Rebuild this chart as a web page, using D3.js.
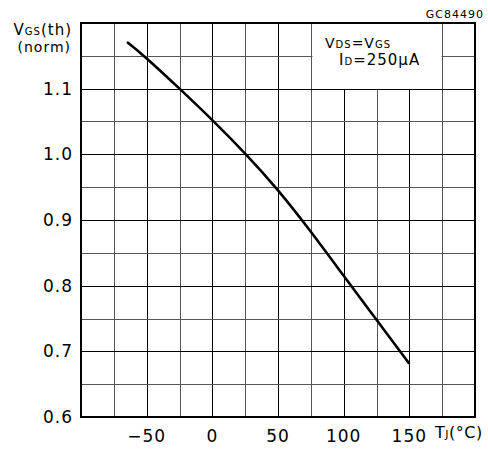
<!DOCTYPE html>
<html>
<head>
<meta charset="utf-8">
<script src="https://cdn.jsdelivr.net/npm/d3@7"></script>
<style>
  body { margin: 0; background: #fff; }
  svg text { font-family: 'DejaVu Sans', sans-serif; fill: #000; }
</style>
</head>
<body>
<div id="chart"></div>
<script>
// junction temperature (°C) vs normalized gate threshold voltage
var tempC = [-65, -50, -25, 0, 25, 50, 75, 100, 125, 150]
var vthNorm = [1.171, 1.146, 1.100, 1.052, 1.001, 0.945, 0.882, 0.815, 0.748, 0.681]

var xTickLabels = [-50, 0, 50, 100, 150]
var yTickLabels = [0.6, 0.7, 0.8, 0.9, 1.0, 1.1]
var xGrid = d3.range(-75, 200, 25)
var yGrid = d3.range(0.65, 1.2, 0.05)

var width = 488, height = 449
var margin = {left: 81, right: 13, top: 23, bottom: 32}

var svg = d3.select('#chart').append('svg')
  .attr('width', width)
  .attr('height', height)

var x = d3.scaleLinear().domain([-100, 200]).range([margin.left, width - margin.right])
var y = d3.scaleLinear().domain([0.6, 1.2]).range([height - margin.bottom, margin.top])

var isMajorX = d => d % 50 == 0
var isMajorY = d => Math.abs(Math.round(d*10) - d*10) < 1e-6

// grid
svg.append('g').selectAll('line')
  .data(xGrid)
  .join('line')
  .attr('x1', d => Math.round(x(d)) + .5)
  .attr('x2', d => Math.round(x(d)) + .5)
  .attr('y1', y(1.2))
  .attr('y2', y(0.6))
  .attr('stroke', d => isMajorX(d) ? '#000' : '#555')
  .attr('stroke-width', 1)

svg.append('g').selectAll('line')
  .data(yGrid)
  .join('line')
  .attr('x1', x(-100))
  .attr('x2', x(200))
  .attr('y1', d => Math.round(y(d)) + .5)
  .attr('y2', d => Math.round(y(d)) + .5)
  .attr('stroke', d => isMajorY(d) ? '#000' : '#555')
  .attr('stroke-width', 1)

// white box behind the conditions text
svg.append('rect')
  .attr('x', Math.round(x(75)) + 1.5)
  .attr('y', y(1.2))
  .attr('width', Math.round(x(175)) - Math.round(x(75)) - 2)
  .attr('height', Math.round(y(1.1)) - y(1.2))
  .attr('fill', '#fff')

// frame
svg.append('rect')
  .attr('x', x(-100))
  .attr('y', y(1.2))
  .attr('width', x(200) - x(-100))
  .attr('height', y(0.6) - y(1.2))
  .attr('fill', 'none')
  .attr('stroke', '#000')
  .attr('stroke-width', 2)

// curve
var line = d3.line()
  .x((d, i) => x(tempC[i]))
  .y(d => y(d))
  .curve(d3.curveNatural)

svg.append('path')
  .datum(vthNorm)
  .attr('d', line)
  .attr('fill', 'none')
  .attr('stroke', '#000')
  .attr('stroke-width', 2.6)

// tick labels
svg.append('g').selectAll('text')
  .data(xTickLabels)
  .join('text')
  .attr('x', d => x(d))
  .attr('y', 442)
  .attr('text-anchor', 'middle')
  .style('font-size', '17px')
  .style('letter-spacing', '1px')
  .text(d => d < 0 ? '\u2212' + Math.abs(d) : d)

svg.append('g').selectAll('text')
  .data(yTickLabels)
  .join('text')
  .attr('x', 73)
  .attr('y', d => y(d))
  .attr('dy', '0.36em')
  .attr('text-anchor', 'end')
  .style('font-size', '17px')
  .style('letter-spacing', '1px')
  .text(d => d.toFixed(1))

// axis titles
var yTitle = svg.append('text')
  .attr('x', 72)
  .attr('y', 35)
  .attr('text-anchor', 'end')
  .style('font-size', '15px')
  .style('letter-spacing', '1px')
yTitle.append('tspan').text('V')
yTitle.append('tspan').style('font-size', '10px').text('GS')
yTitle.append('tspan').text('(th)')

svg.append('text')
  .attr('x', 71)
  .attr('y', 52)
  .attr('text-anchor', 'end')
  .style('font-size', '14px')
  .style('letter-spacing', '1px')
  .text('(norm)')

var xTitle = svg.append('text')
  .attr('x', 435)
  .attr('y', 438)
  .style('font-size', '16px')
  .style('letter-spacing', '0.5px')
xTitle.append('tspan').text('T')
xTitle.append('tspan').style('font-size', '11px').text('J')
xTitle.append('tspan').text('(°C)')

// conditions
var cond1 = svg.append('text')
  .attr('x', 325)
  .attr('y', 48)
  .style('font-size', '14px')
  .style('letter-spacing', '1px')
cond1.append('tspan').text('V')
cond1.append('tspan').style('font-size', '10px').text('DS')
cond1.append('tspan').text('=V')
cond1.append('tspan').style('font-size', '10px').text('GS')

var cond2 = svg.append('text')
  .attr('x', 339)
  .attr('y', 65)
  .style('font-size', '15px')
  .style('letter-spacing', '1px')
cond2.append('tspan').text('I')
cond2.append('tspan').style('font-size', '10px').text('D')
cond2.append('tspan').text('=250\u03bcA')

svg.append('text')
  .attr('x', 484)
  .attr('y', 18)
  .attr('text-anchor', 'end')
  .style('font-size', '11px')
  .style('letter-spacing', '1px')
  .text('GC84490')
</script>
</body>
</html>
